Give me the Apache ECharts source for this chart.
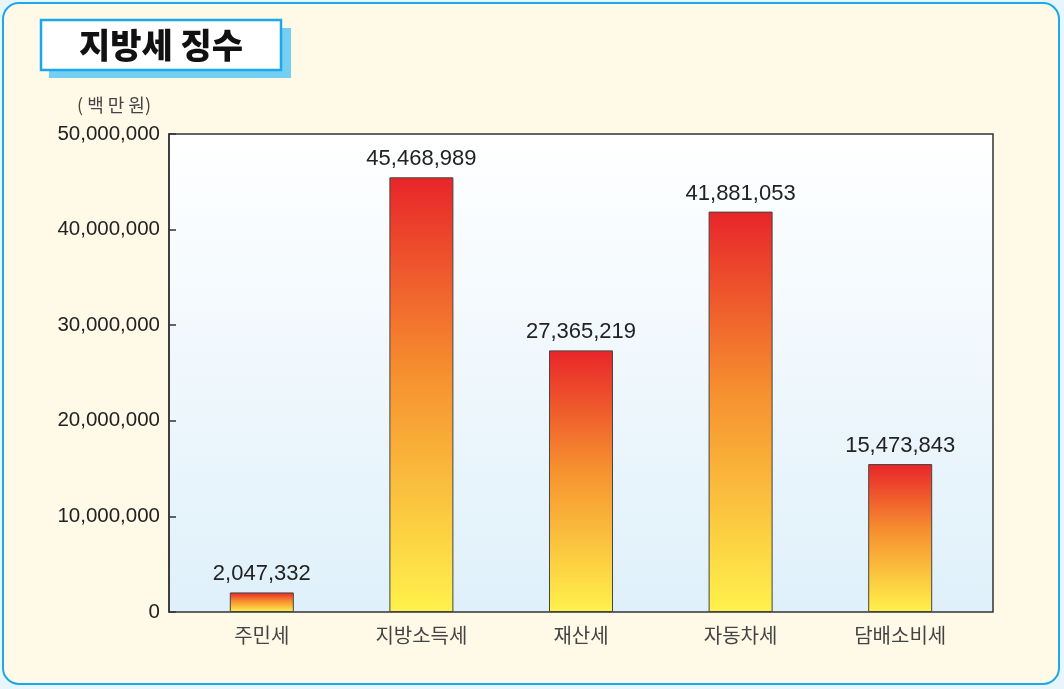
<!DOCTYPE html>
<html>
<head>
<meta charset="utf-8">
<script src="https://cdn.jsdelivr.net/npm/echarts@6/dist/echarts.min.js"></script>
<style>
  html, body { margin: 0; padding: 0; background: #e7f5fc; }
  #chart { width: 1064px; height: 689px; }
</style>
</head>
<body>
<div id="chart"></div>
<script>
  // 지방세 징수 (백만원)
  const categories = ['주민세', '지방소득세', '재산세', '자동차세', '담배소비세']
  const taxValues = [2047332, 45468989, 27365219, 41881053, 15473843]
  const yTicks = [0, 10000000, 20000000, 30000000, 40000000, 50000000]

  const font = '"Liberation Sans", Arial, sans-serif'
  const kr = '"Noto Sans CJK KR", sans-serif'
  const myChart = echarts.init(document.getElementById('chart'))

  const yMin = yTicks[0]
  const yMax = yTicks[yTicks.length - 1]

  const option = {
    backgroundColor: '#e7f5fc',
    animation: false,
    graphic: [
      // 바깥 둥근 박스
      { type: 'rect', z: -10, shape: { x: 3, y: 3, width: 1056, height: 681, r: 16 },
        style: { fill: '#fffae8', stroke: '#1ca8ea', lineWidth: 2 } },
      // 제목 그림자
      { type: 'rect', z: -9, shape: { x: 49, y: 28, width: 242, height: 50 },
        style: { fill: '#74cff3' } },
      // 제목 박스
      { type: 'rect', z: -8, shape: { x: 41, y: 20, width: 240, height: 50 },
        style: { fill: '#ffffff', stroke: '#1ca8ea', lineWidth: 2.5 } },
      { type: 'text', z: -7, x: 161, y: 45,
        style: { text: '지방세 징수', font: '900 34px "Noto Sans CJK KR", sans-serif',
          fill: '#111', align: 'center', verticalAlign: 'middle' } }
    ],
    grid: [
      {
        // 테두리 + 배경 + y축
        left: 169, right: 71, top: 134, bottom: 77,
        show: true, borderColor: '#333', borderWidth: 1.5,
        backgroundColor: new echarts.graphic.LinearGradient(0, 0, 0, 1, [
          { offset: 0, color: '#ffffff' },
          { offset: 1, color: '#dff0fa' }
        ])
      },
      {
        // 막대 영역 (양쪽 여백 조금)
        left: 182, right: 84, top: 134, bottom: 77
      }
    ],
    xAxis: [
      { gridIndex: 0, type: 'value', show: false, min: 0, max: 1 },
      {
        gridIndex: 1,
        type: 'category',
        data: categories,
        axisTick: { show: false },
        axisLine: { show: false },
        axisLabel: { color: '#444', fontSize: 20, margin: 13, fontFamily: kr }
      }
    ],
    yAxis: [
      {
        gridIndex: 0,
        type: 'value',
        min: yMin,
        max: yMax,
        interval: yTicks[1] - yTicks[0],
        name: '( 백 만 원)',
        nameLocation: 'end',
        nameGap: 20,
        nameTextStyle: { color: '#444', fontSize: 18, align: 'right', padding: [0, 18, 0, 0],
          fontFamily: kr },
        splitLine: { show: false },
        axisTick: { show: true, inside: true, length: 7, lineStyle: { color: '#333', width: 1.5 } },
        axisLine: { show: true, lineStyle: { color: '#333', width: 1.5 } },
        axisLabel: {
          color: '#222', fontSize: 20.5, margin: 9, fontFamily: font,
          formatter: v => v.toLocaleString('en-US')
        }
      },
      { gridIndex: 1, type: 'value', show: false, min: yMin, max: yMax }
    ],
    series: [{
      type: 'bar',
      xAxisIndex: 1,
      yAxisIndex: 1,
      data: taxValues,
      barWidth: 64,
      itemStyle: {
        borderColor: '#444',
        borderWidth: 1,
        color: new echarts.graphic.LinearGradient(0, 0, 0, 1, [
          { offset: 0, color: '#e8252a' },
          { offset: 0.45, color: '#f6902f' },
          { offset: 1, color: '#fff24c' }
        ])
      },
      label: {
        show: true,
        position: 'top',
        distance: 7,
        color: '#222',
        fontSize: 22,
        fontFamily: font,
        formatter: p => p.value.toLocaleString('en-US')
      }
    }]
  }
  myChart.setOption(option)
</script>
</body>
</html>
